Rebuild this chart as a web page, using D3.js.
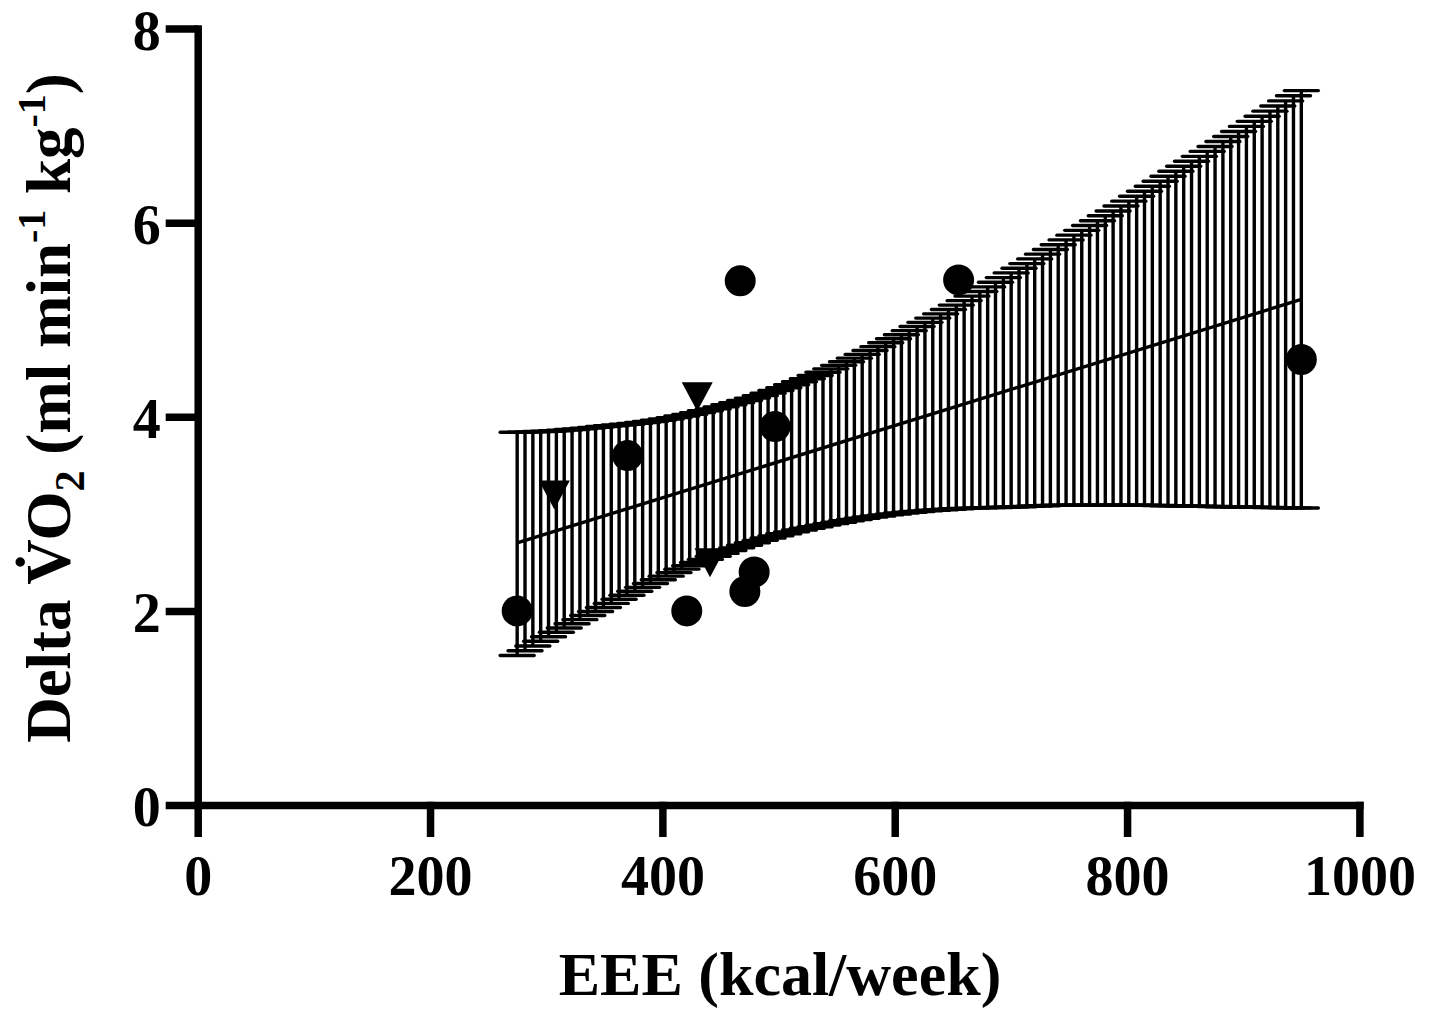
<!DOCTYPE html>
<html>
<head>
<meta charset="utf-8">
<script src="https://cdn.jsdelivr.net/npm/d3@7"></script>
<style>
  html, body { margin: 0; padding: 0; background: #fff; }
  svg { display: block; }
  text { font-family: "Liberation Serif", "Times New Roman", serif; font-weight: bold; fill: #000; }
</style>
</head>
<body>
<svg id="chart" width="1440" height="1011"></svg>
<script>
// ---- data ----
const xTicks = [0, 200, 400, 600, 800, 1000];
const yTicks = [0, 2, 4, 6, 8];

// 95% confidence band of the regression (knots)
const bandX     = [275, 300, 350, 400, 450, 500, 550, 600, 650, 700, 750, 800, 850, 900, 950];
const bandUpper = [3.84, 3.85, 3.90, 3.97, 4.10, 4.28, 4.52, 4.81, 5.13, 5.48, 5.84, 6.21, 6.59, 6.97, 7.36];
const bandLower = [1.54, 1.72, 2.04, 2.34, 2.59, 2.78, 2.91, 3.00, 3.05, 3.07, 3.09, 3.09, 3.08, 3.07, 3.06];

// regression line
const fitX = [275, 950];
const fitY = [2.70, 5.21];

// scatter: circles
const circleX = [275, 370, 421, 467, 471, 479, 497, 655, 950];
const circleY = [2.0, 3.6, 2.0, 5.4, 2.2, 2.4, 3.9, 5.41, 4.59];
// scatter: downward triangles
const triX = [307, 430, 441];
const triY = [3.2, 4.21, 2.5];

const xTitle = "EEE (kcal/week)";

// ---- drawing ----
const svg = d3.select("#chart");
const x = d3.scaleLinear().domain([0, 1000]).range([197.7, 1359.4]);
const y = d3.scaleLinear().domain([0, 8]).range([805, 28.5]);

const hatchCount = 101;   // number of hatch bars drawn across the band
const capHalf = 17;

// hidden helper paths for the band edges
const edgeLine = (arr) => d3.line().x((d, i) => x(bandX[i])).y(d => y(d)).curve(d3.curveMonotoneX)(arr);
const helper = svg.append("g").attr("visibility", "hidden");
const upPath = helper.append("path").attr("d", edgeLine(bandUpper)).node();
const loPath = helper.append("path").attr("d", edgeLine(bandLower)).node();

function sampler(p) {
  const L = p.getTotalLength();
  return px => {
    let lo = 0, hi = L;
    for (let k = 0; k < 40; k++) {
      const mid = (lo + hi) / 2;
      if (p.getPointAtLength(mid).x < px) lo = mid; else hi = mid;
    }
    return p.getPointAtLength((lo + hi) / 2).y;
  };
}
const upAt = sampler(upPath), loAt = sampler(loPath);

const x0 = x(bandX[0]), x1 = x(bandX[bandX.length - 1]);
const hatch = d3.range(hatchCount).map(i => {
  const px = x0 + i * (x1 - x0) / (hatchCount - 1);
  return { px, yu: upAt(px), yl: loAt(px) };
});

const band = svg.append("g").attr("stroke", "#000").attr("stroke-width", 3.4);
band.selectAll("line.bar").data(hatch).join("line").attr("class", "bar")
  .attr("x1", d => d.px).attr("x2", d => d.px)
  .attr("y1", d => d.yu).attr("y2", d => d.yl);
band.selectAll("line.capu").data(hatch).join("line").attr("class", "capu")
  .attr("stroke-linecap", "round")
  .attr("x1", d => d.px - capHalf).attr("x2", d => d.px + capHalf)
  .attr("y1", d => d.yu).attr("y2", d => d.yu);
band.selectAll("line.capl").data(hatch).join("line").attr("class", "capl")
  .attr("stroke-linecap", "round")
  .attr("x1", d => d.px - capHalf).attr("x2", d => d.px + capHalf)
  .attr("y1", d => d.yl).attr("y2", d => d.yl);

// regression line
svg.append("path")
  .attr("d", d3.line().x((d, i) => x(fitX[i])).y(d => y(d))(fitY))
  .attr("fill", "none").attr("stroke", "#000").attr("stroke-width", 3.4);

// points
svg.append("g").selectAll("circle").data(circleX).join("circle")
  .attr("cx", d => x(d)).attr("cy", (d, i) => y(circleY[i])).attr("r", 15.5).attr("fill", "#000");
svg.append("g").selectAll("path").data(triX).join("path")
  .attr("transform", (d, i) => `translate(${x(d)},${y(triY[i])})`)
  .attr("d", "M-15.5,-14L15.5,-14L0,15Z").attr("fill", "#000");

// axes
const axW = 7.5;
const gx = svg.append("g").attr("transform", `translate(0,${y(0)})`)
  .call(d3.axisBottom(x).tickValues(xTicks).tickFormat(d3.format("d")).tickSize(32).tickSizeOuter(0).tickPadding(0));
const gy = svg.append("g").attr("transform", `translate(${x(0)},0)`)
  .call(d3.axisLeft(y).tickValues(yTicks).tickFormat(d3.format("d")).tickSize(32).tickSizeOuter(0).tickPadding(0));
[gx, gy].forEach(g => {
  g.select(".domain").attr("stroke", "#000").attr("stroke-width", axW).attr("stroke-linecap", "square");
  g.selectAll(".tick line").attr("stroke", "#000").attr("stroke-width", axW).attr("stroke-linecap", "butt");
  g.selectAll("text").attr("font-family", null).attr("fill", "#000").attr("font-size", 56);
});
gx.selectAll(".tick line").attr("y1", -axW / 2 + 0.5);
gx.selectAll("text").attr("y", 90).attr("dy", null);
gy.selectAll(".tick line").attr("x1", 0);
gy.selectAll("text").attr("x", -37).attr("dy", null).attr("y", 20.5);

// x-axis title
svg.append("text").attr("x", 780).attr("y", 995).attr("text-anchor", "middle")
  .attr("font-size", 62).text(xTitle);

// y-axis title
const yt = svg.append("text").attr("transform", "translate(70,408) rotate(-90)")
  .attr("text-anchor", "middle").attr("font-size", 63);
yt.append("tspan").text("Delta V\u0307O");
yt.append("tspan").attr("font-size", 42).attr("dy", 14).text("2");
yt.append("tspan").attr("dy", -14).text(" (ml min");
yt.append("tspan").attr("font-size", 40).attr("dy", -25).text("-1");
yt.append("tspan").attr("dy", 25).text(" kg");
yt.append("tspan").attr("font-size", 40).attr("dy", -25).text("-1");
yt.append("tspan").attr("dy", 25).text(")");
</script>
</body>
</html>
